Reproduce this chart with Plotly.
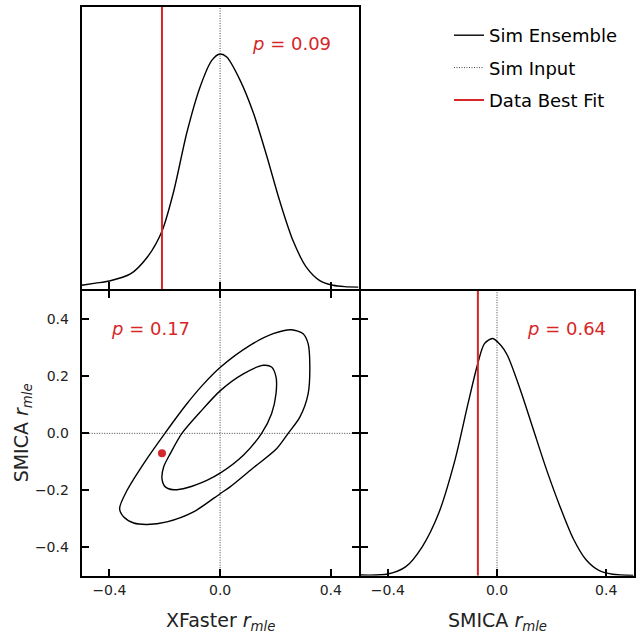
import plotly.graph_objects as go

# ---------------- data ----------------
xf_x = [-0.50, -0.45, -0.40, -0.324, -0.264, -0.21, -0.168, -0.12, -0.072, -0.03, 0.0,
        0.024, 0.072, 0.12, 0.168, 0.216, 0.264, 0.312, 0.36, 0.408, 0.45, 0.50]
xf_y = [0.016, 0.025, 0.034, 0.064, 0.134, 0.246, 0.414, 0.666, 0.861, 0.973, 1.0,
        0.987, 0.889, 0.75, 0.568, 0.372, 0.204, 0.092, 0.036, 0.016, 0.010, 0.008]

sm_x = [-0.50, -0.40, -0.334, -0.274, -0.214, -0.154, -0.106, -0.072, -0.046, -0.016,
        0.014, 0.038, 0.086, 0.134, 0.182, 0.231, 0.279, 0.327, 0.375, 0.423, 0.50]
sm_y = [0.003, 0.007, 0.038, 0.122, 0.262, 0.487, 0.726, 0.887, 0.978, 1.0,
        0.971, 0.929, 0.782, 0.613, 0.445, 0.291, 0.157, 0.066, 0.021, 0.006, 0.001]

# 2D contours (closed loops)
outer_x = [0.0, 0.036, 0.120, 0.204, 0.246, 0.288, 0.318, 0.324, 0.318, 0.300, 0.258, 0.192,
           0.108, 0.002, -0.060, -0.120, -0.204, -0.276, -0.336, -0.363, -0.348, -0.312,
           -0.264, -0.192, -0.096, 0.0]
outer_y = [-0.212, -0.188, -0.121, -0.054, 0.0, 0.057, 0.139, 0.245, 0.315, 0.350, 0.364, 0.350,
           0.309, 0.233, 0.173, 0.104, -0.006, -0.106, -0.200, -0.264, -0.294, -0.315,
           -0.320, -0.311, -0.276, -0.212]

inner_x = [0.0, 0.084, 0.150, 0.186, 0.202, 0.202, 0.186, 0.156, 0.084, 0.002, -0.072,
           -0.138, -0.180, -0.204, -0.210, -0.198, -0.168, -0.120, -0.048, 0.0]
inner_y = [-0.140, -0.077, 0.0, 0.069, 0.139, 0.198, 0.233, 0.239, 0.209, 0.151, 0.075,
           0.0, -0.071, -0.118, -0.159, -0.188, -0.198, -0.191, -0.165, -0.140]

sim_input = 0.0
data_xf = -0.21
data_sm = -0.07
p_xf = "0.09"
p_2d = "0.17"
p_sm = "0.64"

xticks = [-0.4, 0.0, 0.4]
yticks = [-0.4, -0.2, 0.0, 0.2, 0.4]

# ---------------- figure ----------------
RED = "#d62728"
DOT = "#444444"
FONT = "DejaVu Sans"
W, H = 636, 635
dens_range = [0, 1.2]
r_range = [-0.5, 0.5]

fig = go.Figure()
spl = dict(color="black", width=1.4, shape="spline", smoothing=0.8)
dotl = dict(color=DOT, width=1, dash="1px,1.5px")
redl = dict(color=RED, width=2)

# top-left panel (x, y)
fig.add_trace(go.Scatter(x=xf_x, y=xf_y, mode="lines", line=spl,
                         name="Sim Ensemble", legendgroup="a", xaxis="x", yaxis="y"))
fig.add_trace(go.Scatter(x=[sim_input, sim_input], y=dens_range, mode="lines", line=dotl,
                         name="Sim Input", legendgroup="b", xaxis="x", yaxis="y"))
fig.add_trace(go.Scatter(x=[data_xf, data_xf], y=dens_range, mode="lines", line=redl,
                         name="Data Best Fit", legendgroup="c", xaxis="x", yaxis="y"))

# bottom-left 2D panel (x2, y2)
fig.add_trace(go.Scatter(x=[sim_input, sim_input], y=r_range, mode="lines", line=dotl,
                         showlegend=False, xaxis="x2", yaxis="y2"))
fig.add_trace(go.Scatter(x=r_range, y=[sim_input, sim_input], mode="lines", line=dotl,
                         showlegend=False, xaxis="x2", yaxis="y2"))
fig.add_trace(go.Scatter(x=outer_x, y=outer_y, mode="lines", line=spl,
                         showlegend=False, xaxis="x2", yaxis="y2"))
fig.add_trace(go.Scatter(x=inner_x, y=inner_y, mode="lines", line=spl,
                         showlegend=False, xaxis="x2", yaxis="y2"))
fig.add_trace(go.Scatter(x=[data_xf], y=[data_sm], mode="markers", marker=dict(color=RED, size=8),
                         showlegend=False, xaxis="x2", yaxis="y2"))

# bottom-right panel (x3, y3)
fig.add_trace(go.Scatter(x=[sim_input, sim_input], y=dens_range, mode="lines", line=dotl,
                         showlegend=False, xaxis="x3", yaxis="y3"))
fig.add_trace(go.Scatter(x=sm_x, y=sm_y, mode="lines", line=spl,
                         showlegend=False, xaxis="x3", yaxis="y3"))
fig.add_trace(go.Scatter(x=[data_sm, data_sm], y=dens_range, mode="lines", line=redl,
                         showlegend=False, xaxis="x3", yaxis="y3"))

# panel domains (pixels -> paper fractions); shared edges offset so the outward-drawn
# axis lines of neighbouring panels coincide
x_left, x_mid, x_mid2, x_right = 81.7 / W, 358.5 / W, 360.5 / W, 633.5 / W
y_top, y_mid_top, y_mid, y_bot = 1 - 7 / H, 1 - 289 / H, 1 - 291 / H, 1 - 575.7 / H

frame = dict(showline=True, linecolor="black", linewidth=2, mirror=True, showgrid=False, zeroline=False,
             ticks="inside", ticklen=7, tickwidth=1.5, tickcolor="black", automargin=False)
tickfont = dict(family=FONT, size=14, color="#222222")
titlefont = dict(family=FONT, size=19, color="#222222")

# density tick positions on the right panel matching the 2D y ticks
dens_ticks = [dens_range[0] + (t - r_range[0]) / (r_range[1] - r_range[0]) * (dens_range[1] - dens_range[0]) for t in yticks]

fig.update_layout(
    width=W, height=H, margin=dict(l=0, r=0, t=0, b=0, autoexpand=False),
    paper_bgcolor="white", plot_bgcolor="white",
    font=dict(family=FONT, color="#222222"),
    xaxis=dict(domain=[x_left, x_mid], anchor="y", range=r_range, tickvals=xticks, showticklabels=False, **frame),
    yaxis=dict(domain=[y_mid_top, y_top], anchor="x", range=dens_range, showticklabels=False,
               **{**frame, "ticks": ""}),
    xaxis2=dict(domain=[x_left, x_mid], anchor="y2", range=r_range, tickvals=xticks, tickformat=".1f",
                tickfont=tickfont, ticklabelstandoff=0, **{**frame, "mirror": "allticks"}),
    yaxis2=dict(domain=[y_bot, y_mid], anchor="x2", range=r_range, tickvals=yticks, tickformat=".1f",
                tickfont=tickfont, ticklabelstandoff=8, **{**frame, "mirror": "allticks"}),
    xaxis3=dict(domain=[x_mid2, x_right], anchor="y3", range=r_range, tickvals=xticks, tickformat=".1f",
                tickfont=tickfont, ticklabelstandoff=0, **frame),
    yaxis3=dict(domain=[y_bot, y_mid], anchor="x3", range=dens_range, tickvals=dens_ticks, showticklabels=False, **frame),
    legend=dict(x=449 / W, y=1 - 17 / H, xanchor="left", yanchor="top", bgcolor="rgba(0,0,0,0)",
                font=dict(family=FONT, size=18, color="black"), itemwidth=30, tracegroupgap=6),
    showlegend=True,
)

# axis titles
fig.add_annotation(x=(x_left + x_mid) / 2, y=1 - 621 / H, xref="paper", yref="paper",
                   text="XFaster <i>r</i><sub><i>mle</i></sub>", showarrow=False, font=titlefont,
                   xanchor="center", yanchor="middle")
fig.add_annotation(x=(x_mid2 + x_right) / 2, y=1 - 621 / H, xref="paper", yref="paper",
                   text="SMICA <i>r</i><sub><i>mle</i></sub>", showarrow=False, font=titlefont,
                   xanchor="center", yanchor="middle")
fig.add_annotation(x=22 / W, y=(y_bot + y_mid) / 2, xref="paper", yref="paper",
                   text="SMICA <i>r</i><sub><i>mle</i></sub>", showarrow=False, font=titlefont,
                   textangle=-90, xanchor="center", yanchor="middle")

ann_font = dict(family=FONT, size=18, color=RED)
fig.add_annotation(x=0.258, y=0.872, xref="x", yref="y domain", text="<i>p</i> = " + p_xf,
                   showarrow=False, font=ann_font, xanchor="center", yanchor="middle")
fig.add_annotation(x=-0.252, y=0.867, xref="x2", yref="y2 domain", text="<i>p</i> = " + p_2d,
                   showarrow=False, font=ann_font, xanchor="center", yanchor="middle")
fig.add_annotation(x=0.256, y=0.867, xref="x3", yref="y3 domain", text="<i>p</i> = " + p_sm,
                   showarrow=False, font=ann_font, xanchor="center", yanchor="middle")

fig.write_html("out.html", config={"displayModeBar": False},
               post_script="document.body.style.margin='0px';")
